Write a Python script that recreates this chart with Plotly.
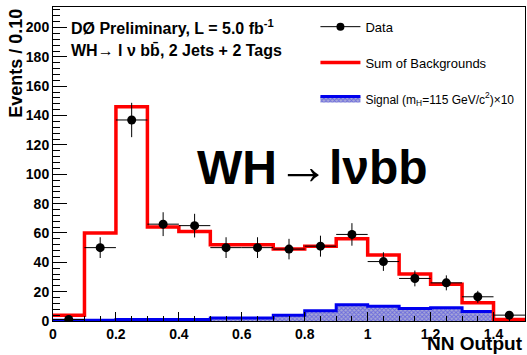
import numpy as np
import plotly.graph_objects as go

# Binning of the NN output distribution (width 0.10)
bin_edges = [0.0, 0.1, 0.2, 0.3, 0.4, 0.5, 0.6, 0.7, 0.8, 0.9, 1.0, 1.1, 1.2, 1.3, 1.4, 1.5]
bin_centers = [0.05, 0.15, 0.25, 0.35, 0.45, 0.55, 0.65, 0.75, 0.85, 0.95, 1.05, 1.15, 1.25, 1.35, 1.45]

# Observed events per bin
data_counts = [1, 50, 137, 66, 65, 50, 50, 49, 51, 59, 40.5, 29, 26, 16.5, 4]

# Sum of backgrounds per bin
background = [4, 60, 146, 64, 61, 52, 52, 49, 51, 56, 45, 32, 25, 12.5, 1]

# Signal (mH = 115 GeV) scaled by 10
signal_x10 = [0.5, 0.5, 1, 1, 1, 2, 2, 4, 7, 11, 10, 8.5, 9, 6.5, 0.7]

FONT = "Liberation Sans, Arial, Helvetica, sans-serif"


def step(values):
    # outline of a histogram drawn with an hv line: repeat the last bin at the right edge
    return bin_edges, list(values) + [values[-1]]


fig = go.Figure()

sx, sy = step(signal_x10)
fig.add_trace(go.Scatter(
    x=sx, y=sy, mode="lines", line_shape="hv",
    line=dict(color="#0000ee", width=3),
    fill="tozeroy",
    fillcolor="rgba(0,0,0,0)",
    fillpattern=dict(shape="x", size=3, solidity=0.55,
                     fgcolor="#3030e0", bgcolor="#a8a8d8"),
    name="<span style='font-size:12px'>Signal (m<sub>H</sub>=115 GeV/c<sup>2</sup>)×10</span>",
    legendgroup="c", legendrank=3,
))

bx, by = step(background)
fig.add_trace(go.Scatter(
    x=bx, y=by, mode="lines", line_shape="hv",
    line=dict(color="#ff0000", width=3.5),
    name="Sum of Backgrounds", legendgroup="b", legendrank=2,
))

fig.add_trace(go.Scatter(
    x=bin_centers, y=data_counts, mode="markers",
    marker=dict(color="black", size=9),
    error_y=dict(type="data", array=list(np.sqrt(data_counts)), color="black",
                 thickness=1, width=0),
    error_x=dict(type="constant", value=0.05, color="black", thickness=1, width=0),
    showlegend=False,
))

# legend entry for the data points (marker with a horizontal bar)
fig.add_trace(go.Scatter(
    x=[None], y=[None], mode="lines+markers",
    line=dict(color="black", width=1), marker=dict(color="black", size=8),
    name="Data", legendgroup="a", legendrank=1,
))

axis_common = dict(
    showgrid=False, zeroline=False, showline=True, linecolor="black", linewidth=1,
    mirror=True, ticks="inside", tickcolor="black", tickwidth=1,
    tickfont=dict(family=FONT, size=14, color="black", weight="bold"),
)

fig.update_xaxes(
    range=[0, 1.5], dtick=0.2, tick0=0, ticklen=9,
    minor=dict(dtick=0.05, ticks="inside", ticklen=5, tickcolor="black"),
    **axis_common,
)
fig.update_yaxes(
    range=[0, 214], dtick=20, tick0=0, ticklen=14,
    minor=dict(dtick=4, ticks="inside", ticklen=7, tickcolor="black"),
    **axis_common,
)

annotations = [
    dict(text="DØ Preliminary, L = 5.0 fb<sup>-1</sup>", x=0.034, y=0.936,
         xanchor="left", yanchor="middle", font=dict(size=16, weight="bold")),
    dict(text="WH<span style='font-weight:normal'>→</span> l ν bb\u0304, 2 Jets + 2 Tags",
         x=0.034, y=0.863, xanchor="left", yanchor="middle",
         font=dict(size=16, weight="bold")),
    dict(text="WH<span style='font-size:52px'>→</span>lνbb",
         x=0.301, y=0.494, xanchor="left", yanchor="middle",
         font=dict(size=48, weight="bold")),
    dict(text="NN Output", x=1.0, y=-0.113, xanchor="right", yanchor="bottom",
         font=dict(size=19, weight="bold")),
    dict(text="Events / 0.10", x=-0.08, y=1.0, xanchor="center", yanchor="top",
         textangle=-90, font=dict(size=18, weight="bold")),
]
for a in annotations:
    a.update(xref="paper", yref="paper", showarrow=False)
    a["font"].update(family=FONT, color="black")

fig.update_layout(
    width=527, height=355,
    margin=dict(l=53, r=2, t=7, b=34),
    paper_bgcolor="white", plot_bgcolor="white",
    annotations=annotations,
    legend=dict(
        x=0.556, y=0.985, xanchor="left", yanchor="top",
        font=dict(family=FONT, size=13, color="black"),
        bgcolor="rgba(0,0,0,0)", traceorder="grouped", tracegroupgap=16,
        itemwidth=40,
    ),
)

fig.write_html("out.html")
